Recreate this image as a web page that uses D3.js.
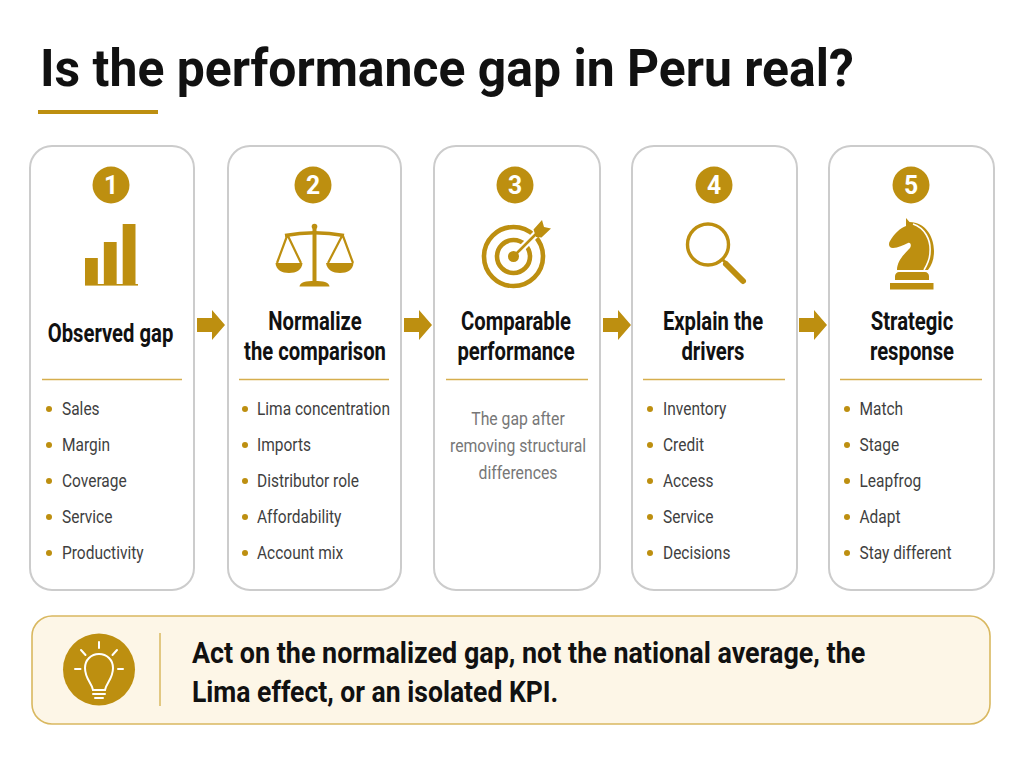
<!DOCTYPE html>
<html>
<head>
<meta charset="utf-8">
<script src="https://cdn.jsdelivr.net/npm/d3@7"></script>
<style>
  html, body { margin: 0; padding: 0; background: #fff; }
  svg { display: block; }
  text { font-family: Roboto, sans-serif; }
</style>
</head>
<body>
<div id="chart"></div>
<script>
const titleText = 'Is the performance gap in Peru real?';
const stepNumbers = ['1', '2', '3', '4', '5'];
const stepHeadings = [
  ['Observed gap'],
  ['Normalize', 'the comparison'],
  ['Comparable', 'performance'],
  ['Explain the', 'drivers'],
  ['Strategic', 'response']
];
const stepItems = [
  ['Sales', 'Margin', 'Coverage', 'Service', 'Productivity'],
  ['Lima concentration', 'Imports', 'Distributor role', 'Affordability', 'Account mix'],
  [],
  ['Inventory', 'Credit', 'Access', 'Service', 'Decisions'],
  ['Match', 'Stage', 'Leapfrog', 'Adapt', 'Stay different']
];
const stepNote = ['The gap after', 'removing structural', 'differences'];
const calloutLines = ['Act on the normalized gap, not the national average, the', 'Lima effect, or an isolated KPI.'];
const barIconValues = [27, 43, 61];
const barIconNames = ['a', 'b', 'c'];

const gold = '#bd8f10';
const rule = '#d6ae4e';
const cardEdge = '#cccccc';
const ink = '#111';

const width = 1024, height = 768;

// card geometry
const cards = [
  { x0: 30, x1: 194, cx: 111, head: 110.5, rule0: 42, rule1: 182, bullet: 49, list: 62 },
  { x0: 228, x1: 401, cx: 313, head: 315, rule0: 239, rule1: 389, bullet: 245, list: 257 },
  { x0: 434, x1: 600, cx: 515, head: 516, rule0: 446, rule1: 588, bullet: 0, list: 0 },
  { x0: 632, x1: 797, cx: 714, head: 713, rule0: 643, rule1: 785, bullet: 650, list: 663 },
  { x0: 829, x1: 994, cx: 911, head: 912, rule0: 840, rule1: 982, bullet: 847, list: 859.5 }
];
const arrowX = [197, 404, 603, 799];

const svg = d3.select('#chart').append('svg')
  .attr('width', width)
  .attr('height', height)
  .attr('viewBox', `0 0 ${width} ${height}`);

// text helper, the reference uses a narrow face so squeeze Roboto horizontally
function put(parent, str, x, y, size, weight, fill, anchor, squeeze) {
  const t = parent.append('text')
    .attr('x', x)
    .attr('y', y)
    .attr('font-size', size)
    .attr('font-weight', weight)
    .attr('fill', fill)
    .attr('text-anchor', anchor)
    .text(str);
  const natural = t.node().getComputedTextLength();
  t.attr('textLength', natural * squeeze).attr('lengthAdjust', 'spacingAndGlyphs');
  return t;
}

// title
put(svg, titleText, 40, 86, 52, 700, ink, 'start', 0.959);
svg.append('rect').attr('x', 38).attr('y', 110).attr('width', 120).attr('height', 4).attr('fill', gold);

// cards
const cardG = svg.selectAll('g.card')
  .data(cards)
  .enter().append('g')
  .attr('class', 'card');

cardG.append('rect')
  .attr('x', d => d.x0)
  .attr('y', 146)
  .attr('width', d => d.x1 - d.x0)
  .attr('height', 444)
  .attr('rx', 22)
  .attr('fill', '#fff')
  .attr('stroke', cardEdge)
  .attr('stroke-width', 2);

cardG.append('circle')
  .attr('cx', d => d.cx)
  .attr('cy', 185)
  .attr('r', 18.5)
  .attr('fill', gold);

cardG.each(function (d, i) {
  const g = d3.select(this);
  put(g, stepNumbers[i], d.cx, 194, 26, 700, '#fff', 'middle', 0.95);

  const lines = stepHeadings[i];
  const base = lines.length === 1 ? [342] : [330, 360];
  lines.forEach((s, k) => put(g, s, d.head, base[k], 25, 700, ink, 'middle', 0.81));

  g.append('line')
    .attr('x1', d.rule0).attr('x2', d.rule1)
    .attr('y1', 379.5).attr('y2', 379.5)
    .attr('stroke', rule).attr('stroke-width', 1.5);

  const rows = d3.scalePoint().domain(d3.range(5)).range([409, 553]);
  stepItems[i].forEach((s, k) => {
    g.append('circle').attr('cx', d.bullet).attr('cy', rows(k)).attr('r', 3).attr('fill', gold);
    put(g, s, d.list, rows(k) + 6, 19, 400, '#3f3f3f', 'start', 0.815);
  });
});

// middle card has a sentence instead of a list
const noteY = d3.scalePoint().domain(d3.range(3)).range([424.5, 478.5]);
stepNote.forEach((s, k) => put(svg, s, 518, noteY(k), 19, 400, '#777', 'middle', 0.83));

// arrows between cards
svg.selectAll('path.step-arrow')
  .data(arrowX)
  .enter().append('path')
  .attr('class', 'step-arrow')
  .attr('transform', d => `translate(${d},325)`)
  .attr('d', 'M0,-7H15V-15L28,0L15,15V7H0Z')
  .attr('fill', gold);

// icon 1, small bar chart
(function () {
  const g = svg.append('g');
  const x = d3.scaleBand().domain(barIconNames).range([85, 135.5]).paddingInner(0.32);
  const y = d3.scaleLinear().domain([0, 61]).range([285, 224]);
  g.selectAll('rect')
    .data(barIconValues)
    .enter().append('rect')
    .attr('x', (d, i) => x(barIconNames[i]))
    .attr('y', d => y(d))
    .attr('width', x.bandwidth())
    .attr('height', d => y(0) - y(d))
    .attr('fill', gold);
  g.append('rect').attr('x', 85).attr('y', 284).attr('width', 53).attr('height', 1.6).attr('fill', gold);
})();

// icon 2, balance scale
(function () {
  const g = svg.append('g').attr('fill', 'none').attr('stroke', gold).attr('stroke-linejoin', 'round');
  g.append('circle').attr('cx', 314.5).attr('cy', 226.5).attr('r', 2.8).attr('fill', gold).attr('stroke', 'none');
  g.append('path').attr('d', 'M314.5,227V281').attr('stroke-width', 4);
  g.append('path').attr('d', 'M285,235.5Q314.5,230 344,235.5').attr('stroke-width', 3.4);
  g.append('path').attr('d', 'M287,236L277,263M288,236L301,263').attr('stroke-width', 2.2);
  g.append('path').attr('d', 'M342,236L328,263M343,236L353,263').attr('stroke-width', 2.2);
  g.append('path').attr('d', 'M275.5,263H302.5C302,270 296,273 289,273C282,273 276,270 275.5,263Z').attr('fill', gold).attr('stroke', 'none');
  g.append('path').attr('d', 'M326,263H353.5C353,270 347,273 340,273C333,273 327,270 326,263Z').attr('fill', gold).attr('stroke', 'none');
  g.append('path').attr('d', 'M299.5,286.5C300,282 306,281 314.5,281C323,281 329,282 329.5,286.5Z').attr('fill', gold).attr('stroke', 'none');
})();

// icon 3, target with arrow
(function () {
  const g = svg.append('g');
  g.append('circle').attr('cx', 513.5).attr('cy', 256.5).attr('r', 29.5).attr('fill', 'none').attr('stroke', gold).attr('stroke-width', 4.6);
  g.append('circle').attr('cx', 513.5).attr('cy', 256.5).attr('r', 16.5).attr('fill', 'none').attr('stroke', gold).attr('stroke-width', 4.6);
  g.append('path').attr('d', 'M514,256L540,230').attr('stroke', '#fff').attr('stroke-width', 7);
  g.append('circle').attr('cx', 513.5).attr('cy', 256.5).attr('r', 5.5).attr('fill', gold);
  g.append('path').attr('d', 'M514,256L538,232').attr('stroke', gold).attr('stroke-width', 2.6);
  g.append('path').attr('d', 'M533.5,229.5L542,220L544,227L551,228.5L541.5,237.5L536,237Z').attr('fill', gold);
})();

// icon 4, magnifier
(function () {
  const g = svg.append('g').attr('fill', 'none').attr('stroke', gold);
  g.append('circle').attr('cx', 708).attr('cy', 244.5).attr('r', 20.5).attr('stroke-width', 3.4);
  g.append('path').attr('d', 'M723,260L726,263').attr('stroke-width', 3);
  g.append('path').attr('d', 'M726,264L743,281').attr('stroke-width', 6).attr('stroke-linecap', 'round');
})();

// icon 5, chess knight
(function () {
  const g = svg.append('g');
  g.append('path')
    .attr('d', 'M906,218L909.5,222C925,222 934,236 934,251C934,259 932,265 928,270H897C897,262 903,255 909,249C912,246 911,242 908,243C903,245 898,248 893,248C889,248 888,244 890,241C894,234 900,228 906,226Z')
    .attr('fill', gold);
  g.append('path').attr('d', 'M913,224C925,228 931,240 930,252C930,259 927,265 924,270').attr('fill', 'none').attr('stroke', '#fff').attr('stroke-width', 1.6);
  g.append('path').attr('d', 'M895,280V276C895,274 897,272 899,272H925C927,272 929,274 929,276V280Z').attr('fill', gold);
  g.append('rect').attr('x', 890).attr('y', 283).attr('width', 43.5).attr('height', 6.5).attr('fill', gold);
})();

// callout
svg.append('rect')
  .attr('x', 32).attr('y', 616)
  .attr('width', 958).attr('height', 108)
  .attr('rx', 20)
  .attr('fill', '#fdf6e7')
  .attr('stroke', '#d9b860')
  .attr('stroke-width', 1.6);
svg.append('circle').attr('cx', 99).attr('cy', 669.5).attr('r', 36).attr('fill', gold);
svg.append('line').attr('x1', 160).attr('x2', 160).attr('y1', 633).attr('y2', 706).attr('stroke', '#d9b860').attr('stroke-width', 1.5);

(function () {
  const g = svg.append('g').attr('fill', 'none').attr('stroke', '#fff').attr('stroke-width', 2).attr('stroke-linecap', 'round');
  g.append('path').attr('d', 'M93,690C92,683 85,679 85,668C85,660 91,654 99,654C107,654 113,660 113,668C113,679 106,683 105,690Z');
  g.append('path').attr('d', 'M93,694H105M95,698H103');
  g.append('path').attr('d', 'M99,642V648M81,650L85.5,655M117,650L112.5,655M75,669H80.5M118,669H123');
})();

const calloutY = [663, 702];
const calloutSqueeze = [0.896, 0.884];
calloutLines.forEach((s, k) => put(svg, s, 192, calloutY[k], 30, 700, ink, 'start', calloutSqueeze[k]));
</script>
</body>
</html>
